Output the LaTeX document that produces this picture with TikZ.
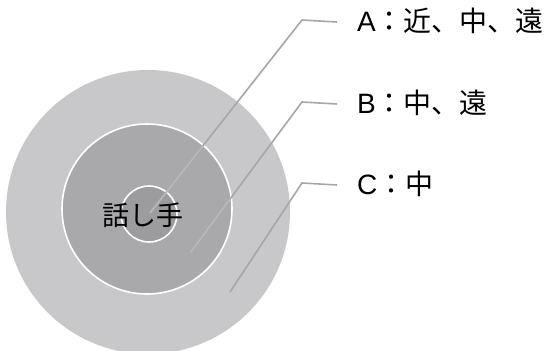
\documentclass[tikz,border=0pt]{standalone}
\usepackage{fontspec}
\setmainfont{Liberation Sans}
\newfontfamily\cjk{Noto Sans CJK JP}
\definecolor{outerc}{HTML}{C8C8CA}
\definecolor{midc}{HTML}{A9A9AB}
\definecolor{innerc}{HTML}{9C9C9E}
\definecolor{leadc}{HTML}{A6A6A6}
\definecolor{leadin}{HTML}{B9B9BA}
\begin{document}
\begin{tikzpicture}[x=1pt,y=-1pt,
  ring/.style={circle,draw=white,line width=1.6pt,inner sep=0pt},
  leader/.style={draw=leadc,line width=1.6pt},
  lbl/.style={anchor=west,inner sep=0pt,font=\fontsize{28}{32}\selectfont}]
\useasboundingbox (0,0) rectangle (544,351);
\node[circle,fill=outerc,minimum size=284pt,inner sep=0pt] (outer) at (148,212) {};
\node[ring,fill=midc,minimum size=170pt] (mid) at (147,209) {};
\node[ring,fill=innerc,minimum size=56pt] (inner) at (149,214) {};
\coordinate (ea) at (150,213);
\coordinate (eb) at (190,253);
\coordinate (ec) at (230,292);
\coordinate (ka) at (302,20);
\coordinate (kb) at (302,102);
\coordinate (kc) at (302,183);
\node[lbl] (la) at (357,21) {A{\cjk ：近、中、遠}};
\node[lbl] (lb) at (357,103) {B{\cjk ：中、遠}};
\node[lbl] (lc) at (357,184) {C{\cjk ：中}};
\draw[leader] (ea) -- (ka) -- ([xshift=-20pt,yshift=-1pt]la.west);
\draw[leader] (eb) -- (kb) -- ([xshift=-20pt,yshift=-1pt]lb.west);
\draw[leader] (ec) -- (kc) -- ([xshift=-20pt,yshift=-1pt]lc.west);
\begin{scope}
\clip (mid.center) circle[radius=84pt];
\draw[leader,draw=leadin] (ea) -- (ka);
\draw[leader,draw=leadin] (eb) -- (kb);
\end{scope}
\node[font=\fontsize{27}{30}\selectfont\cjk] (spk) at (143,215) {話し手};
\end{tikzpicture}
\end{document}
